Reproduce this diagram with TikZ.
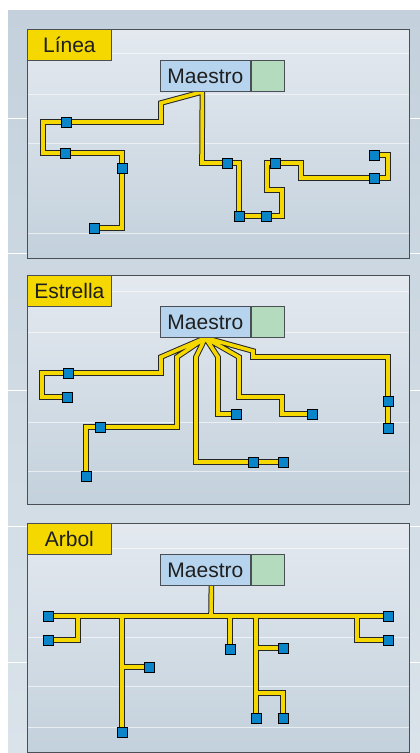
\documentclass[tikz,border=0pt]{standalone}
\usepackage{fontspec}
\setmainfont{Liberation Sans}
\usetikzlibrary{calc,positioning}
\definecolor{cableyellow}{HTML}{F5D800}
\definecolor{masterblue}{HTML}{B6D4EE}
\definecolor{mastergreen}{HTML}{B4DBBD}
\definecolor{stationblue}{HTML}{0A85C9}
\definecolor{paneltop}{HTML}{E4E9F0}
\definecolor{panelbot}{HTML}{C3D1DC}
\definecolor{bgtop}{HTML}{C4D1DC}
\definecolor{bgbot}{HTML}{DAE3EA}
\definecolor{framegray}{HTML}{4A4F55}
\definecolor{textgray}{HTML}{1E1E1E}
\pgfdeclarelayer{front}
\pgfsetlayers{main,front}
\tikzset{
  cableout/.style={line width=5.6pt, black!85, line join=miter},
  cablein/.style={line width=3.6pt, cableyellow, line join=miter},
  station/.style={draw=black, line width=0.8pt, fill=stationblue, minimum size=10pt, inner sep=0pt},
  tag/.style={draw=framegray, fill=cableyellow, line width=0.8pt, minimum width=84pt,
    minimum height=31pt, inner sep=0pt, anchor=north west, text=textgray,
    font=\fontsize{21}{21}\selectfont},
  master/.style={draw=framegray, fill=masterblue, line width=0.8pt, minimum width=90pt,
    minimum height=31pt, inner sep=0pt, text=textgray, font=\fontsize{21}{21}\selectfont},
  masterend/.style={draw=framegray, fill=mastergreen, line width=0.8pt, minimum width=33pt,
    minimum height=31pt, inner sep=0pt}
}
% #1 suffix, #2 top edge, #3 title, #4 faint rule heights
\newcommand{\netpanel}[4]{%
  \begin{scope}[shift={(0,#2)}]
    \shade[top color=paneltop, bottom color=panelbot] (27,0) rectangle (409,229);
    \foreach \ly in {#4}
      \draw[white, opacity=0.6, line width=0.6pt] (27,\ly) -- (409,\ly);
    \draw[framegray, line width=0.8pt] (27,0) rectangle (409,229);
    \begin{pgfonlayer}{front}
      \node[tag] (tag#1) at (27,0) {#3};
      \node[master, anchor=north west] (m#1) at (160,31) {Maestro};
      \node[masterend, right=0pt of m#1] (g#1) {};
    \end{pgfonlayer}
  \end{scope}
}

\begin{document}
\begin{tikzpicture}[x=1pt, y=-1pt]
  \useasboundingbox (0,0) rectangle (420,753);
  % ---------- backdrop ----------
  \shade[top color=bgtop, bottom color=bgbot] (8,10) rectangle (420,753);
  \foreach \wy in {118,253,390,526,662}
    \draw[white, line width=0.8pt] (8,\wy) -- (420,\wy);

  % ---------- frames ----------
  \netpanel{1}{29}{Línea}{24,65,114,204}
  \netpanel{2}{275}{Estrella}{16,57,147,196}
  \netpanel{3}{523}{Arbol}{25,114,163,204}

  % ---------- stations ----------
  \begin{pgfonlayer}{front}
    \foreach \n/\px/\py in {1a/66/122, 1b/65/153, 1c/122/168, 1d/94/228, 1e/227/163,
        1f/239/216, 1g/266/216, 1h/275/163, 1i/374/178, 1j/374/155,
        2a/68/373, 2b/67/397, 2c/100/427, 2d/86/476, 2e/253/462, 2f/283/462,
        2g/236/414, 2h/312/414, 2i/388/401, 2j/388/428,
        3a/48/616, 3b/48/640, 3c/149/667, 3d/122/732, 3e/230/649, 3f/283/648,
        3g/256/718, 3h/283/718, 3i/388/616, 3j/388/640}
      \node[station] (s\n) at (\px,\py) {};
  \end{pgfonlayer}

  % ---------- cables ----------
  \def\lineanet{([xshift=-3pt]m1.south) -- (161,103) -- (161,122) -- (s1a.center) -- (43,122)
      -- (43,153) -- (s1b.center) -- (122,153) -- (s1c.center) -- (122,228) -- (s1d.center)
    ([xshift=-3pt]m1.south) -- (202,163) -- (s1e.center) -- (239,163) -- (s1f.center)
      -- (s1g.center) -- (282,216) -- (282,190) -- (267,190) -- (267,163) -- (s1h.center)
      -- (301,163) -- (301,178) -- (s1i.center) -- (388,178) -- (388,155) -- (s1j.center)}
  \def\estrellanet{(m2.south) -- (161,357) -- (161,373) -- (s2a.center) -- (42,373)
      -- (42,397) -- (s2b.center)
    (m2.south) -- (177,357) -- (177,427) -- (s2c.center) -- (86,427) -- (s2d.center)
    (m2.south) -- (196,357) -- (196,462) -- (s2e.center) -- (s2f.center)
    (m2.south) -- (218,357) -- (218,414) -- (s2g.center)
    (m2.south) -- (239,357) -- (239,397) -- (282,397) -- (282,414) -- (s2h.center)
    (m2.south) -- (253,351) -- (253,357) -- (388,357) -- (s2i.center) -- (s2j.center)}
  \def\arbolnet{([xshift=6pt]m3.south) -- (211,616)
    (s3a.center) -- (s3i.center)
    (78,616) -- (78,640) -- (s3b.center)
    (122,616) -- (s3d.center)
    (122,667) -- (s3c.center)
    (230,616) -- (s3e.center)
    (256,616) -- (s3g.center)
    (256,648) -- (s3f.center)
    (256,693) -- (283,693) -- (s3h.center)
    (357,616) -- (357,640) -- (s3j.center)}
  \foreach \net in {\lineanet,\estrellanet,\arbolnet}{
    \draw[cableout] \net;
    \draw[cablein] \net;
  }
\end{tikzpicture}
\end{document}
